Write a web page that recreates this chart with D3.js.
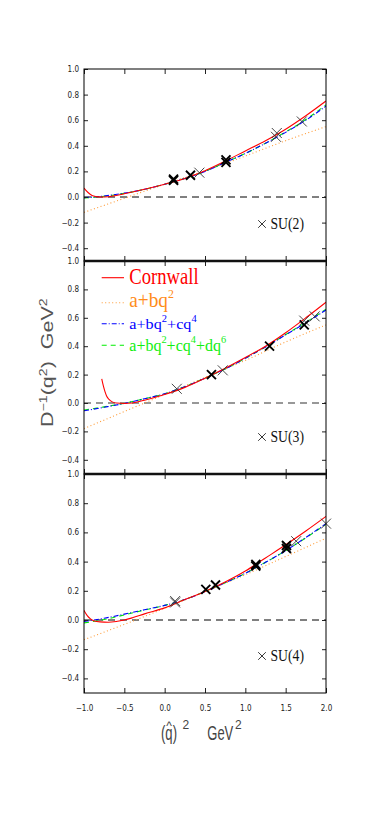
<!DOCTYPE html>
<html>
<head>
<meta charset="utf-8">
<script src="https://cdn.jsdelivr.net/npm/d3@7/dist/d3.min.js"></script>
<style>
  body { margin: 0; background: #fff; }
  svg { display: block; }
  .tick text { font-family: 'Liberation Sans Narrow', 'DejaVu Sans Condensed', 'Liberation Sans', sans-serif; font-size: 8px; fill: #222; }
  .domain { display: none; }
</style>
</head>
<body>
<script>
// axis ticks
const qTicks = [-1.0, -0.5, 0.0, 0.5, 1.0, 1.5, 2.0];
const yTicks = [-0.4, -0.2, 0.0, 0.2, 0.4, 0.6, 0.8, 1.0];

const groupNames = ["SU(2)", "SU(3)", "SU(4)"];

// SU(2) curves, [q^2, D^-1]
const su2Cornwall = [[-1, 0.07], [-0.95, 0.035], [-0.9, 0.012], [-0.85, 0.003], [-0.8, 0.0], [-0.7, 0.002],
  [-0.5, 0.025], [-0.25, 0.06], [0, 0.10], [0.25, 0.145], [0.5, 0.205], [0.75, 0.28], [1.0, 0.36],
  [1.25, 0.44], [1.5, 0.53], [1.75, 0.635], [2.0, 0.75]];
const su2Linear = [[-1, -0.12], [-0.5, -0.01], [0, 0.10], [0.5, 0.205], [1, 0.32], [1.5, 0.44], [2, 0.55]];
const su2Quad = [[-1, -0.005], [-0.75, 0.008], [-0.5, 0.03], [-0.25, 0.06], [0, 0.10], [0.25, 0.145],
  [0.5, 0.2], [0.75, 0.27], [1.0, 0.34], [1.25, 0.42], [1.5, 0.505], [1.75, 0.60], [2.0, 0.71]];
const su2Cubic = [[-1, -0.008], [-0.75, 0.006], [-0.5, 0.028], [-0.25, 0.06], [0, 0.10], [0.25, 0.145],
  [0.5, 0.2], [0.75, 0.27], [1.0, 0.34], [1.25, 0.42], [1.5, 0.508], [1.75, 0.605], [2.0, 0.72]];
const su2Bold = [[0.11, 0.13], [0.11, 0.14], [0.32, 0.17], [0.76, 0.27], [0.76, 0.29]];
const su2Thin = [[0.43, 0.19], [1.38, 0.47], [1.39, 0.50], [1.70, 0.59]];

// SU(3)
const su3Cornwall = [[-0.78, 0.17], [-0.76, 0.12], [-0.74, 0.08], [-0.72, 0.05], [-0.69, 0.025], [-0.65, 0.008],
  [-0.6, 0.0], [-0.5, -0.003], [-0.4, 0.0], [-0.25, 0.02], [0, 0.06], [0.25, 0.11], [0.5, 0.175],
  [0.75, 0.245], [1.0, 0.32], [1.25, 0.40], [1.5, 0.495], [1.75, 0.60], [2.0, 0.71]];
const su3Linear = [[-1, -0.18], [-0.5, -0.06], [0, 0.06], [0.5, 0.18], [1, 0.30], [1.5, 0.43], [2, 0.55]];
const su3Quad = [[-1, -0.055], [-0.75, -0.03], [-0.5, -0.003], [-0.25, 0.03], [0, 0.065], [0.25, 0.115],
  [0.5, 0.175], [0.75, 0.24], [1.0, 0.315], [1.25, 0.395], [1.5, 0.48], [1.75, 0.565], [2.0, 0.655]];
const su3Cubic = [[-1, -0.05], [-0.75, -0.027], [-0.5, -0.002], [-0.25, 0.03], [0, 0.065], [0.25, 0.115],
  [0.5, 0.175], [0.75, 0.24], [1.0, 0.315], [1.25, 0.395], [1.5, 0.482], [1.75, 0.568], [2.0, 0.66]];
const su3Bold = [[0.58, 0.20], [1.30, 0.40], [1.73, 0.55]];
const su3Thin = [[0.15, 0.10], [0.72, 0.23], [1.73, 0.58], [1.86, 0.61]];

// SU(4)
const su4Cornwall = [[-1, 0.066], [-0.96, 0.03], [-0.92, 0.008], [-0.88, -0.005], [-0.8, -0.013], [-0.7, -0.015],
  [-0.6, -0.01], [-0.5, 0.0], [-0.4, 0.015], [-0.25, 0.042], [0, 0.083], [0.25, 0.14], [0.5, 0.195],
  [0.75, 0.26], [1.0, 0.335], [1.25, 0.425], [1.5, 0.515], [1.75, 0.61], [2.0, 0.71]];
const su4Linear = [[-1, -0.135], [-0.5, -0.03], [0, 0.08], [0.5, 0.195], [1, 0.31], [1.5, 0.435], [2, 0.56]];
const su4Quad = [[-1, -0.01], [-0.75, 0.012], [-0.5, 0.04], [-0.25, 0.07], [0, 0.10], [0.25, 0.14],
  [0.5, 0.195], [0.75, 0.255], [1.0, 0.32], [1.25, 0.395], [1.5, 0.475], [1.75, 0.565], [2.0, 0.66]];
const su4Cubic = [[-1, -0.02], [-0.75, 0.003], [-0.5, 0.035], [-0.25, 0.068], [0, 0.10], [0.25, 0.14],
  [0.5, 0.195], [0.75, 0.255], [1.0, 0.32], [1.25, 0.395], [1.5, 0.475], [1.75, 0.563], [2.0, 0.655]];
const su4Bold = [[0.51, 0.21], [0.63, 0.24], [1.13, 0.37], [1.13, 0.38], [1.51, 0.49], [1.51, 0.51]];
const su4Thin = [[0.13, 0.13], [0.13, 0.12], [1.63, 0.54], [2.0, 0.66]];

// legend entries: plain text and superscript parts
const legendLabels = [
  [["Cornwall", 0]],
  [["a+bq", 0], ["2", 1]],
  [["a+bq", 0], ["2", 1], ["+cq", 0], ["4", 1]],
  [["a+bq", 0], ["2", 1], ["+cq", 0], ["4", 1], ["+dq", 0], ["6", 1]]
];

const panelsData = [
  { curves: [su2Cornwall, su2Linear, su2Quad, su2Cubic], bold: su2Bold, thin: su2Thin },
  { curves: [su3Cornwall, su3Linear, su3Quad, su3Cubic], bold: su3Bold, thin: su3Thin },
  { curves: [su4Cornwall, su4Linear, su4Quad, su4Cubic], bold: su4Bold, thin: su4Thin }
];

// ---- layout
const W = 382, H = 817;
const left = 84, right = 326;
const panelBox = [[69, 261], [261, 474], [474, 693]];

const colors = ["#ff0000", "#ff9933", "#0000ff", "#00ee00"];
const textColors = ["#ff0000", "#ff8c1a", "#0000ff", "#11ee11"];
const dashes = [null, "1,2.5", "5,2,1,2", "5,4"];

const svg = d3.select("body").append("svg").attr("width", W).attr("height", H);

const x = d3.scaleLinear().domain([-1, 2]).range([left, right]);

function crossPath(s) {
  return "M" + (-s) + "," + (-s) + "L" + s + "," + s + "M" + (-s) + "," + s + "L" + s + "," + (-s);
}

// squeeze a text along its baseline to a target width (tall narrow fonts of the original)
function fitWidth(t, x0, y0, w, rot) {
  const bw = t.node().getBBox().width;
  t.attr("transform", "translate(" + x0 + "," + y0 + ")" + (rot ? " rotate(" + rot + ")" : "") +
    " scale(" + (w / bw) + ",1)");
}

panelsData.forEach(function(pd, i) {
  const top = panelBox[i][0], bottom = panelBox[i][1];
  const y = d3.scaleLinear().domain([-0.5, 1.0]).range([bottom, top]);
  const g = svg.append("g");

  g.append("clipPath").attr("id", "clip" + i)
    .append("rect").attr("x", left).attr("y", top).attr("width", right - left).attr("height", bottom - top);

  // zero line
  g.append("line")
    .attr("x1", left).attr("x2", right).attr("y1", y(0)).attr("y2", y(0))
    .attr("stroke", i === 1 ? "#777" : "#000")
    .attr("stroke-width", i === 1 ? 1.6 : 1)
    .attr("stroke-dasharray", "7,5");

  // curves
  const line = d3.line().x(d => x(d[0])).y(d => y(d[1])).curve(d3.curveMonotoneX);
  [1, 3, 2, 0].forEach(function(k) {
    g.append("path")
      .datum(pd.curves[k])
      .attr("clip-path", "url(#clip" + i + ")")
      .attr("fill", "none")
      .attr("stroke", colors[k])
      .attr("stroke-width", 1.1)
      .attr("stroke-dasharray", dashes[k])
      .attr("d", line);
  });

  // lattice points
  g.selectAll(".thin").data(pd.thin).enter().append("path")
    .attr("transform", d => "translate(" + x(d[0]) + "," + y(d[1]) + ")")
    .attr("d", crossPath(5)).attr("stroke", "#333").attr("stroke-width", 0.9).attr("fill", "none");
  g.selectAll(".bold").data(pd.bold).enter().append("path")
    .attr("transform", d => "translate(" + x(d[0]) + "," + y(d[1]) + ")")
    .attr("d", crossPath(4.5)).attr("stroke", "#000").attr("stroke-width", 1.9).attr("fill", "none");

  // axes, ticks inside
  g.append("g").attr("transform", "translate(" + left + ",0)")
    .call(d3.axisLeft(y).tickValues(yTicks).tickSize(-4).tickPadding(5).tickFormat(d3.format(".1f")));
  g.append("g").attr("transform", "translate(" + right + ",0)")
    .call(d3.axisRight(y).tickValues(yTicks).tickSize(-4).tickFormat(""));
  g.append("g").attr("transform", "translate(0," + top + ")")
    .call(d3.axisTop(x).tickValues(qTicks).tickSize(-5).tickFormat(""));
  const xb = g.append("g").attr("transform", "translate(0," + bottom + ")");
  if (i === 2) {
    xb.call(d3.axisBottom(x).tickValues(qTicks).tickSize(-5).tickPadding(12).tickFormat(d3.format(".1f")));
  } else {
    xb.call(d3.axisBottom(x).tickValues(qTicks).tickSize(-5).tickFormat(""));
  }
  g.selectAll(".tick line").attr("stroke", "#222");

  // frame
  g.append("rect").attr("x", left).attr("y", top).attr("width", right - left).attr("height", bottom - top)
    .attr("fill", "none").attr("stroke", "#000").attr("stroke-width", 1);
  if (i > 0) {
    g.append("line").attr("x1", left).attr("x2", right).attr("y1", top).attr("y2", top)
      .attr("stroke", "#111").attr("stroke-width", 2.6);
  }

  // group label
  g.append("path").attr("transform", "translate(262," + (bottom - 37) + ")")
    .attr("d", crossPath(3.8)).attr("stroke", "#222").attr("stroke-width", 0.9).attr("fill", "none");
  const gl = g.append("text")
    .attr("font-family", "'Liberation Serif', 'DejaVu Serif', serif").attr("font-size", 16.5)
    .attr("fill", "#111").text(groupNames[i]);
  fitWidth(gl, 270.5, bottom - 32.5, 33.5);
});

// legend in the SU(3) panel
const legendRows = [
  { y: 277.7, base: 284, len: 69.7, size: 24, sup: 0, dy: 0 },
  { y: 302.7, base: 307, len: 44.7, size: 21, sup: 13, dy: 9.5 },
  { y: 323.7, base: 328.7, len: 67.4, size: 15.5, sup: 10, dy: 7 },
  { y: 345.3, base: 351, len: 97.4, size: 17, sup: 11, dy: 8 }
];
legendRows.forEach(function(r, k) {
  svg.append("line").attr("x1", 101.7).attr("x2", 124).attr("y1", r.y).attr("y2", r.y)
    .attr("stroke", colors[k]).attr("stroke-width", 1.1).attr("stroke-dasharray", dashes[k]);
  const t = svg.append("text")
    .attr("font-family", "'Liberation Serif', 'DejaVu Serif', serif").attr("font-size", r.size)
    .attr("fill", textColors[k]);
  let up = false;
  legendLabels[k].forEach(function(p) {
    const ts = t.append("tspan").text(p[0]);
    if (p[1] && !up) { ts.attr("font-size", r.sup).attr("dy", -r.dy); up = true; }
    else if (!p[1] && up) { ts.attr("dy", r.dy); up = false; }
  });
  fitWidth(t, 129.3, r.base, r.len);
});

// y label, stretched along its baseline like the original
const yl = svg.append("text")
  .attr("font-family", "'Liberation Sans', Arial, sans-serif").attr("font-size", 16)
  .attr("fill", "#555");
yl.append("tspan").text("D");
yl.append("tspan").text("−1").attr("font-size", 10.5).attr("dy", -6.5);
yl.append("tspan").text("(q").attr("dy", 6.5);
yl.append("tspan").text("2").attr("font-size", 10.5).attr("dy", -6.5);
yl.append("tspan").text(")").attr("dy", 6.5);
yl.append("tspan").text("\u00a0\u00a0GeV");
yl.append("tspan").text("2").attr("font-size", 10.5).attr("dy", -6.5);
fitWidth(yl, 53, 427, 129, -90);

// x label, drawn in pieces
const xlFont = "'Liberation Sans', Arial, sans-serif";
const xq = svg.append("text").attr("font-family", xlFont).attr("font-size", 21).attr("fill", "#444").text("(q)");
fitWidth(xq, 161, 740, 16);
svg.append("text").attr("x", 182.5).attr("y", 729)
  .attr("font-family", xlFont).attr("font-size", 12).attr("fill", "#444").text("2");
const xg = svg.append("text").attr("font-family", xlFont).attr("font-size", 21).attr("fill", "#444").text("GeV");
fitWidth(xg, 207.3, 740, 26);
svg.append("text").attr("x", 235).attr("y", 729)
  .attr("font-family", xlFont).attr("font-size", 12).attr("fill", "#444").text("2");
svg.append("text").attr("x", 169).attr("y", 729.5).attr("text-anchor", "middle")
  .attr("font-family", xlFont).attr("font-size", 12).attr("fill", "#444").text("^");
</script>
</body>
</html>
